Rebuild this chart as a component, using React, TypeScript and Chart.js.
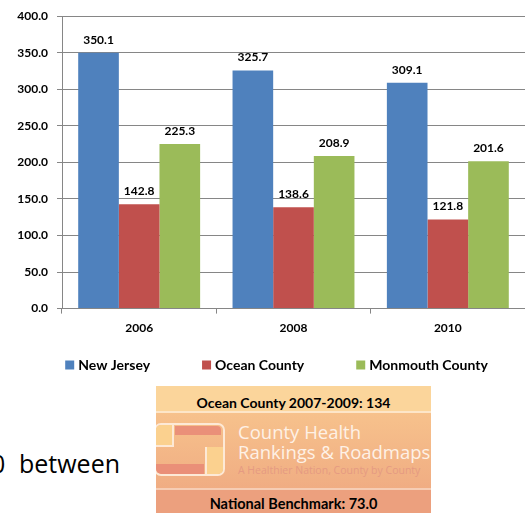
import React, { useEffect, useRef } from "react";
import { Chart, registerables } from "chart.js";

Chart.register(...registerables);

const categories = ["2006", "2008", "2010"];
const seriesNames = ["New Jersey", "Ocean County", "Monmouth County"];
const newJersey = [350.1, 325.7, 309.1];
const oceanCounty = [142.8, 138.6, 121.8];
const monmouthCounty = [225.3, 208.9, 201.6];
const seriesColors = ["#4F81BD", "#C0504D", "#9BBB59"];
const yTicks = [0, 50, 100, 150, 200, 250, 300, 350, 400];

const FONT = "Lato, 'DejaVu Sans', sans-serif";

const valueLabels = {
  id: "valueLabels",
  afterDatasetsDraw(chart: any) {
    const ctx = chart.ctx;
    ctx.save();
    ctx.font = `bold 12px ${FONT}`;
    ctx.fillStyle = "#000";
    ctx.textAlign = "center";
    ctx.textBaseline = "middle";
    chart.data.datasets.forEach((ds: any, i: number) => {
      const meta = chart.getDatasetMeta(i);
      meta.data.forEach((bar: any, j: number) => {
        ctx.fillText(Number(ds.data[j]).toFixed(1), bar.x, bar.y - 13);
      });
    });
    ctx.restore();
  },
};

const customLegend = {
  id: "customLegend",
  afterDraw(chart: any) {
    const ctx = chart.ctx;
    ctx.save();
    ctx.font = `bold 14px ${FONT}`;
    ctx.textBaseline = "middle";
    ctx.textAlign = "left";
    const box = 9;
    const gapText = 4;
    const gapItem = 52;
    const items = chart.data.datasets.map((ds: any) => ({
      text: ds.label,
      color: ds.backgroundColor,
      w: box + gapText + ctx.measureText(ds.label).width,
    }));
    const total = items.reduce((s: number, it: any) => s + it.w, 0) + gapItem * (items.length - 1);
    let x = 276.5 - total / 2;
    const y = 365;
    items.forEach((it: any) => {
      ctx.fillStyle = it.color;
      ctx.fillRect(x, y - box / 2, box, box);
      ctx.fillStyle = "#000";
      ctx.fillText(it.text, x + box + gapText, y + 0.5);
      x += it.w + gapItem;
    });
    ctx.restore();
  },
};

function BarChart() {
  const ref = useRef<HTMLCanvasElement | null>(null);
  useEffect(() => {
    if (!ref.current) return;
    const allSeries = [newJersey, oceanCounty, monmouthCounty];
    const chart = new Chart(ref.current, {
      type: "bar",
      data: {
        labels: categories,
        datasets: allSeries.map((d, i) => ({
          label: seriesNames[i],
          data: d,
          backgroundColor: seriesColors[i],
          borderWidth: 0,
          categoryPercentage: 0.79,
          barPercentage: 1,
        })),
      },
      options: {
        responsive: false,
        animation: false,
        devicePixelRatio: 1,
        layout: { padding: { left: 0, right: 0, top: 14, bottom: 43 } },
        plugins: {
          legend: { display: false },
          tooltip: { enabled: false },
        },
        scales: {
          x: {
            grid: {
              display: true,
              drawOnChartArea: false,
              drawTicks: true,
              tickLength: 5,
              color: "#868686",
              offset: true,
            },
            border: { display: true, color: "#868686", width: 1 },
            ticks: {
              color: "#000",
              padding: 7,
              font: { family: FONT, weight: "bold", size: 12 },
            },
          },
          y: {
            min: 0,
            max: 400,
            afterBuildTicks(scale: any) {
              scale.ticks = yTicks.map((v) => ({ value: v }));
            },
            afterFit(scale: any) {
              scale.width = 62;
            },
            grid: { color: "#868686", tickLength: 5, drawTicks: true },
            border: { display: true, color: "#868686", width: 1 },
            ticks: {
              color: "#000",
              padding: 9,
              font: { family: FONT, weight: "bold", size: 12 },
              callback: (v: any) => Number(v).toFixed(1),
            },
          },
        },
      },
      plugins: [valueLabels, customLegend],
    });
    return () => chart.destroy();
  }, []);
  return <canvas ref={ref} width={525} height={385} style={{ display: "block", width: 525, height: 385 }} />;
}

export default function App() {
  return (
    <div
      style={{
        position: "absolute",
        left: 0,
        top: 0,
        width: 525,
        height: 513,
        overflow: "hidden",
        background: "#fff",
        fontFamily: FONT,
      }}
    >
      <BarChart />
      <div
        style={{
          position: "absolute",
          left: 0,
          top: 447,
          width: 150,
          height: 32,
          fontFamily: "'Open Sans', sans-serif",
          fontSize: 25,
          lineHeight: "32px",
          color: "#000",
          whiteSpace: "nowrap",
        }}
      >
        <span style={{ position: "absolute", left: -9, top: 0 }}>0</span>
        <span style={{ position: "absolute", left: 19, top: 0 }}> between</span>
      </div>
      <div
        style={{
          position: "absolute",
          left: 156,
          top: 386,
          width: 275,
          height: 127,
          overflow: "hidden",
          background: "linear-gradient(#F9C98F, #EEA680)",
        }}
      >
        <div
          style={{
            position: "absolute",
            left: 0,
            top: 0,
            width: 275,
            height: 25,
            background: "#FBD59B",
            borderBottom: "2px solid #FDE6C8",
            textAlign: "center",
            fontWeight: "bold",
            fontSize: 14,
            lineHeight: "33px",
            color: "#000",
            overflow: "hidden",
          }}
        >
          Ocean County 2007-2009: 134
        </div>
        <div
          style={{
            position: "absolute",
            left: 0,
            top: 102,
            width: 275,
            height: 25,
            background: "#ECA07E",
            borderTop: "2px solid #F6CDB4",
            textAlign: "center",
            fontWeight: "bold",
            fontSize: 14.5,
            lineHeight: "28px",
            color: "#000",
            overflow: "hidden",
          }}
        >
          National Benchmark: 73.0
        </div>
        {/* logo */}
        <div
          style={{
            position: "absolute",
            left: -2,
            top: 37,
            width: 71,
            height: 53,
            border: "2px solid #FDE9D6",
            borderRadius: 7,
            boxSizing: "border-box",
            overflow: "hidden",
          }}
        >
          <div style={{ position: "absolute", left: 0, top: 0, width: 16, height: 20, background: "#FBD18F", borderRight: "2px solid #FDE9D6", borderBottom: "2px solid #FDE9D6" }} />
          <div style={{ position: "absolute", left: 19, top: 1, width: 46, height: 9, background: "#EA9079", borderRadius: "0 4px 0 0" }} />
          <div style={{ position: "absolute", left: 49, top: 22, width: 18, height: 29, background: "#FBD18F", borderLeft: "2px solid #FDE9D6" }} />
          <div style={{ position: "absolute", left: 0, top: 39, width: 48, height: 10, background: "#EA8F78", borderRadius: "0 0 0 5px" }} />
        </div>
        <div
          style={{
            position: "absolute",
            left: 82,
            top: 36,
            color: "#FEF1E6",
            fontFamily: "'Open Sans', sans-serif",
            fontSize: 18.5,
            lineHeight: "20px",
            whiteSpace: "nowrap",
          }}
        >
          County Health
          <br />
          Rankings &amp; Roadmaps
        </div>
        <div
          style={{
            position: "absolute",
            left: 82,
            top: 77,
            color: "#E59A82",
            fontFamily: "'Open Sans', sans-serif",
            fontSize: 10.5,
            lineHeight: "14px",
            whiteSpace: "nowrap",
          }}
        >
          A Healthier Nation, County by County
        </div>
      </div>
    </div>
  );
}
